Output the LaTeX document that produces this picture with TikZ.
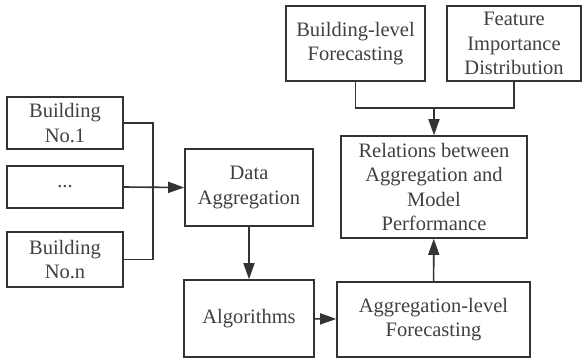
\documentclass[tikz,border=0pt]{standalone}
\usepackage{fontspec}
\setmainfont{Liberation Serif}
\usetikzlibrary{arrows.meta}

\begin{document}
\begin{tikzpicture}[x=1pt,y=-1pt,
		box/.style={draw=black!80,line width=1.6pt,rectangle,align=center,inner sep=0pt,
			text=black!75,font=\fontsize{20.5}{24.5}\selectfont},
		arr/.style={draw=black!80,line width=1.6pt,-{Triangle[length=16pt,width=11pt]}},
		ln/.style={draw=black!80,line width=1.6pt}]
		
		\useasboundingbox (0,0) rectangle (582,360);
		
		% Buildings on the left
		\foreach \name/\y/\h/\txt in {b1/123/52/{Building\\No.1}, bdots/187/42/{...}, bn/259.5/55/{Building\\No.n}} {
			\node[box,minimum width=116pt,minimum height=\h pt] (\name) at (65,\y) {\txt};
		}
		
		\node[box,minimum width=128pt,minimum height=77pt] (agg) at (249,187.5) {Data\\Aggregation};
		\node[box,minimum width=130pt,minimum height=77pt] (alg) at (249,318.5) {Algorithms};
		\node[box,minimum width=193pt,minimum height=75pt] (alf) at (433.5,319.5) {Aggregation-level\\Forecasting};
		\node[box,minimum width=186pt,minimum height=102pt] (rel) at (434,187) {Relations between\\Aggregation and\\Model\\Performance};
		\node[box,minimum width=139pt,minimum height=75pt] (blf) at (355.5,43.5) {Building-level\\Forecasting};
		\node[box,minimum width=134pt,minimum height=75pt] (fid) at (514,43.5) {Feature\\Importance\\Distribution};
		
		% merge points
		\coordinate (mleft) at (153,187);
		\coordinate (mtop) at (434,108);
		
		\draw[ln] (b1.east) -| (mleft) |- (bn.east);
		\draw[arr] (bdots.east) -- (agg.west);
		\draw[arr] (agg) -- (alg);
		\draw[arr] (alg) -- (alf);
		\draw[arr] (alf) -- (rel);
		\draw[ln] (blf.south) |- (mtop) -| (fid.south);
		\draw[arr] (mtop) -- (rel.north);
		
	\end{tikzpicture}
\end{document}
